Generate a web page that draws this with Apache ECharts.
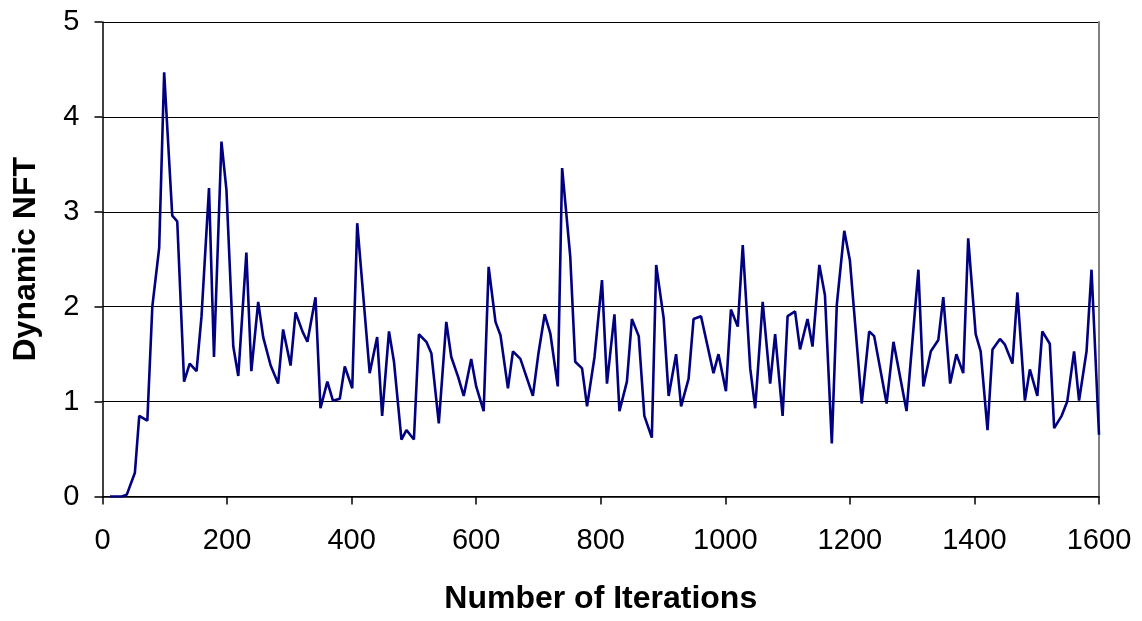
<!DOCTYPE html>
<html>
<head>
<meta charset="utf-8">
<script src="https://cdn.jsdelivr.net/npm/echarts@6/dist/echarts.min.js"></script>
<style>
  html, body { margin: 0; padding: 0; background: #fff; }
  #chart { width: 1142px; height: 621px; }
</style>
</head>
<body>
<div id="chart"></div>
<script>
// iteration numbers and the matching dynamic NFT values
const iterations = [
  12, 31, 39, 52, 59, 72, 80, 91, 99, 112, 120, 131, 140, 151, 159, 171, 179, 191, 199,
  210, 218, 231, 239, 250, 258, 270, 282, 290, 302, 310, 321, 329, 342, 350, 361, 370, 381, 389,
  401, 409, 429, 441, 449, 460, 468, 480, 488, 500, 508, 520, 528, 540, 552, 560, 571, 580, 592,
  600, 612, 620, 631, 639, 651, 659, 671, 691, 700, 710, 719, 731, 738, 751, 759, 770, 778, 790,
  802, 810, 822, 830, 842, 850, 861, 870, 882, 889, 901, 909, 921, 929, 941, 949, 961, 981, 989,
  1001, 1009, 1020, 1028, 1040, 1048, 1060, 1072, 1080, 1092, 1100, 1112, 1120, 1132, 1140, 1151,
  1160, 1171, 1179, 1191, 1200, 1219, 1231, 1239, 1259, 1270, 1291, 1310, 1318, 1330, 1342, 1350,
  1361, 1371, 1382, 1390, 1402, 1410, 1421, 1429, 1441, 1449, 1461, 1469, 1481, 1489, 1501, 1509,
  1521, 1528, 1540, 1549, 1560, 1568, 1580, 1588, 1600
];
const nftValues = [
  0, 0, 0.02, 0.25, 0.85, 0.80, 2.0, 2.62, 4.47, 2.96, 2.90, 1.21, 1.40, 1.32, 1.90, 3.25, 1.47, 3.74, 3.23,
  1.58, 1.27, 2.57, 1.32, 2.05, 1.68, 1.38, 1.19, 1.76, 1.38, 1.94, 1.74, 1.63, 2.10, 0.93, 1.21, 1.01, 1.03, 1.37,
  1.14, 2.88, 1.30, 1.68, 0.85, 1.74, 1.42, 0.60, 0.70, 0.60, 1.71, 1.63, 1.51, 0.77, 1.84, 1.47, 1.26, 1.06, 1.45,
  1.16, 0.90, 2.42, 1.84, 1.70, 1.14, 1.53, 1.45, 1.06, 1.51, 1.92, 1.72, 1.16, 3.46, 2.53, 1.42, 1.35, 0.95, 1.47,
  2.28, 1.19, 1.92, 0.90, 1.21, 1.87, 1.69, 0.85, 0.62, 2.44, 1.88, 1.06, 1.50, 0.95, 1.24, 1.87, 1.90, 1.30, 1.50,
  1.11, 1.97, 1.79, 2.65, 1.35, 0.93, 2.05, 1.19, 1.71, 0.85, 1.90, 1.95, 1.55, 1.87, 1.58, 2.44,
  2.12, 0.56, 2.02, 2.80, 2.49, 0.98, 1.74, 1.69, 0.98, 1.63, 0.90, 2.39, 1.16, 1.53, 1.65, 2.10,
  1.19, 1.50, 1.30, 2.72, 1.71, 1.53, 0.70, 1.55, 1.66, 1.60, 1.40, 2.15, 1.01, 1.34, 1.06, 1.74,
  1.61, 0.72, 0.85, 1.00, 1.53, 1.01, 1.53, 2.39, 0.65
];
const xTicks = { min: 0, max: 1600, step: 200 };
const yTicks = { min: 0, max: 5, step: 1 };

const font = '"Liberation Sans", Arial, sans-serif';

const chart = echarts.init(document.getElementById('chart'), null, { renderer: 'canvas' });

const option = {
  animation: false,
  backgroundColor: '#fff',
  grid: { left: 102.5, right: 43, top: 22, bottom: 124.5 },
  xAxis: {
    type: 'value',
    min: xTicks.min,
    max: xTicks.max,
    interval: xTicks.step,
    name: 'Number of Iterations',
    nameLocation: 'middle',
    nameGap: 87,
    nameTextStyle: { fontFamily: font, fontSize: 32, fontWeight: 'bold', color: '#000' },
    axisLine: { show: true, onZero: false, lineStyle: { color: '#000', width: 1.5 } },
    axisTick: { show: true, inside: false, length: 8, lineStyle: { color: '#000', width: 1.5 } },
    axisLabel: {
      fontFamily: font, fontSize: 29, color: '#000', margin: 30,
      formatter: (v) => String(v)  // no thousands separator
    },
    splitLine: { show: false }
  },
  yAxis: [
    {
      type: 'value',
      min: yTicks.min,
      max: yTicks.max,
      interval: yTicks.step,
      name: 'Dynamic NFT',
      nameLocation: 'middle',
      nameGap: 60,
      nameTextStyle: { fontFamily: font, fontSize: 32, fontWeight: 'bold', color: '#000' },
      axisLine: { show: true, lineStyle: { color: '#000', width: 1.5 } },
      axisTick: { show: true, inside: false, length: 8, lineStyle: { color: '#000', width: 1.5 } },
      axisLabel: { fontFamily: font, fontSize: 29, color: '#000', margin: 23 },
      splitLine: { show: true, lineStyle: { color: '#000', width: 1.2 } }
    },
    {
      // grey right-hand edge of the plot area
      type: 'value',
      position: 'right',
      min: yTicks.min,
      max: yTicks.max,
      axisLine: { show: true, lineStyle: { color: '#808080', width: 2 } },
      axisTick: { show: false },
      axisLabel: { show: false },
      splitLine: { show: false }
    }
  ],
  series: [
    {
      type: 'line',
      data: iterations.map((it, i) => [it, nftValues[i]]),
      showSymbol: false,
      clip: true,
      lineStyle: { color: '#000080', width: 2.6 }
    }
  ]
};

chart.setOption(option);
</script>
</body>
</html>
